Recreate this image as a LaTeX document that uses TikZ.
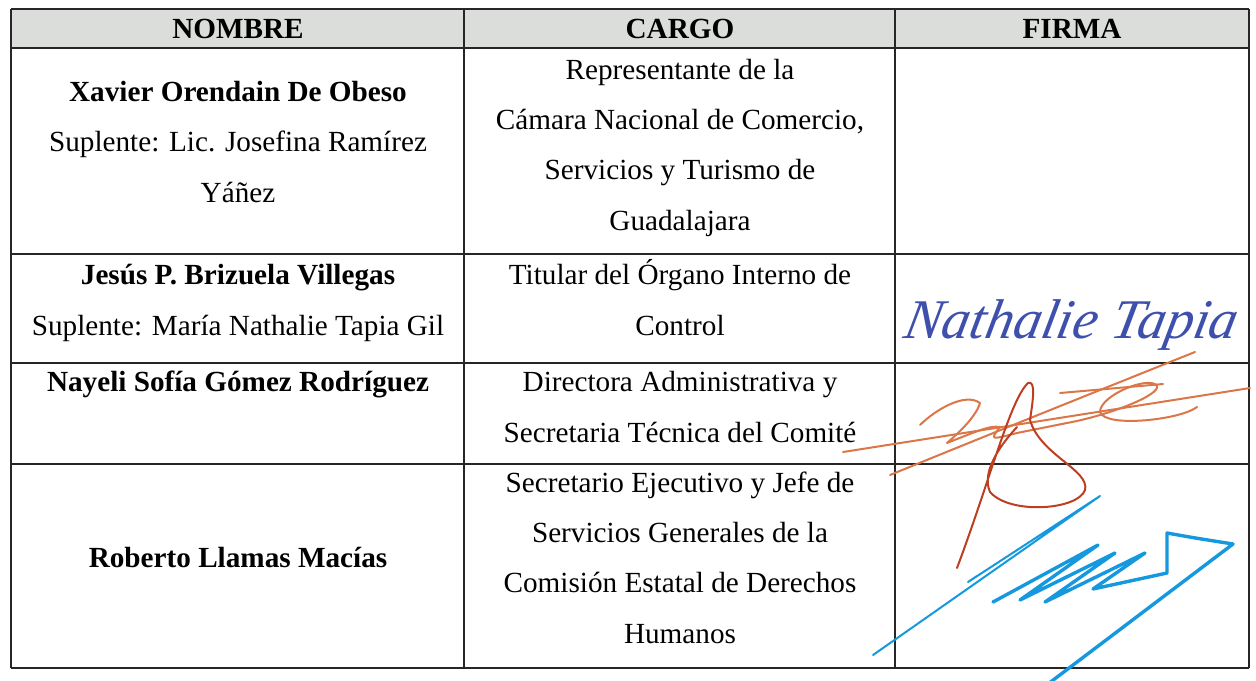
\documentclass[tikz,border=0pt]{standalone}
\usepackage{fontspec}
\setmainfont{Liberation Serif}
\usetikzlibrary{positioning}

\definecolor{headgray}{RGB}{219,221,219}
\definecolor{inkblue}{RGB}{62,80,172}
\definecolor{inkorange}{RGB}{218,118,72}
\definecolor{inkred}{RGB}{190,62,34}
\definecolor{inkcyan}{RGB}{22,152,222}

\tikzstyle{cell}=[anchor=base, align=center, inner sep=0pt, font=\fontsize{14.6}{25.1}\selectfont]
\tikzstyle{head}=[cell, font=\fontsize{14.6}{25.1}\selectfont\bfseries]
\tikzstyle{rule}=[line width=0.9pt, black!85]
\tikzstyle{ink}=[line width=1pt, line cap=round, line join=round]

\begin{document}
\begin{tikzpicture}[x=0.5pt, y=-0.5pt]
  \useasboundingbox (0,0) rectangle (1256,680);
  \fill[headgray] (11,9) rectangle (1249,48);
  % grid of the table
  \foreach \y in {9, 48, 254, 363, 464, 668} {
    \draw[rule] (11,\y) -- (1249,\y);
  }
  \foreach \x in {11, 464, 895, 1249} {
    \draw[rule] (\x,9) -- (\x,668);
  }
  % header
  \foreach \t/\x [count=\i] in {NOMBRE/238, CARGO/680, FIRMA/1072} {%
    \node[head] (h\i) at (\x, 39) {\t};
  }
  % names and posts (placed by their last line)
  \node[cell] (n1) at (238,202) {\textbf{Xavier Orendain De Obeso}\\Suplente: Lic. Josefina Ramírez\\Yáñez};
  \node[cell] (c1) at (680,230) {Representante de la\\Cámara Nacional de Comercio,\\Servicios y Turismo de\\Guadalajara};
  \node[cell] (n2) at (238,335) {\textbf{Jesús P. Brizuela Villegas}\\Suplente: María Nathalie Tapia Gil};
  \node[cell] (c2) at (680,335) {Titular del Órgano Interno de\\Control};
  \node[cell] (n3) at (238,391) {\textbf{Nayeli Sofía Gómez Rodríguez}};
  \node[cell] (c3) at (680,442) {Directora Administrativa y\\Secretaria Técnica del Comité};
  \node[cell] (n4) at (238,567) {\textbf{Roberto Llamas Macías}};
  \node[cell] (c4) at (680,643) {Secretario Ejecutivo y Jefe de\\Servicios Generales de la\\Comisión Estatal de Derechos\\Humanos};
  % signatures
  \node[anchor=base west, inner sep=0pt, text=inkblue, xslant=0.2, font=\fontsize{28}{28}\selectfont\itshape] (s2) at (902,338) {Nathalie Tapia};
  \draw[ink, inkorange] (843,452) -- (1250,388);
  \draw[ink, inkorange] (890,475) .. controls (1000,430) and (1100,390) .. (1195,352);
  \draw[ink, inkorange] (920,425) .. controls (935,410) and (965,392) .. (980,403)
    .. controls (975,420) and (950,440) .. (947,443) .. controls (975,432) and (990,425) .. (1000,427)
    .. controls (990,440) .. (1017,433) -- (1067,423);
  \draw[ink, inkorange] (1060,393) -- (1163,384);
  \draw[ink, inkorange] (1067,423) .. controls (1110,415) and (1160,395) .. (1157,386)
    .. controls (1150,375) and (1100,395) .. (1100,412) .. controls (1105,428) and (1180,420) .. (1197,407);
  \draw[ink, inkred] (957,568) .. controls (990,480) and (1010,400) .. (1028,383)
    .. controls (1036,380) and (1033,400) .. (1030,420) .. controls (1040,455) and (1090,470) .. (1085,490)
    .. controls (1078,510) and (1010,515) .. (990,492) .. controls (980,470) and (1005,440) .. (1017,427);
  \draw[ink, inkcyan] (873,655) -- (1100,496) -- (968,582) -- (977,576);
  \draw[ink, inkcyan, line width=1.7pt] (993,602) -- (1098,545) -- (1020,600) -- (1115,553) -- (1045,602)
    -- (1145,553) -- (1093,589) -- (1167,573) -- (1167,533) .. controls (1195,538) .. (1233,544) -- (1040,690);
\end{tikzpicture}
\end{document}
